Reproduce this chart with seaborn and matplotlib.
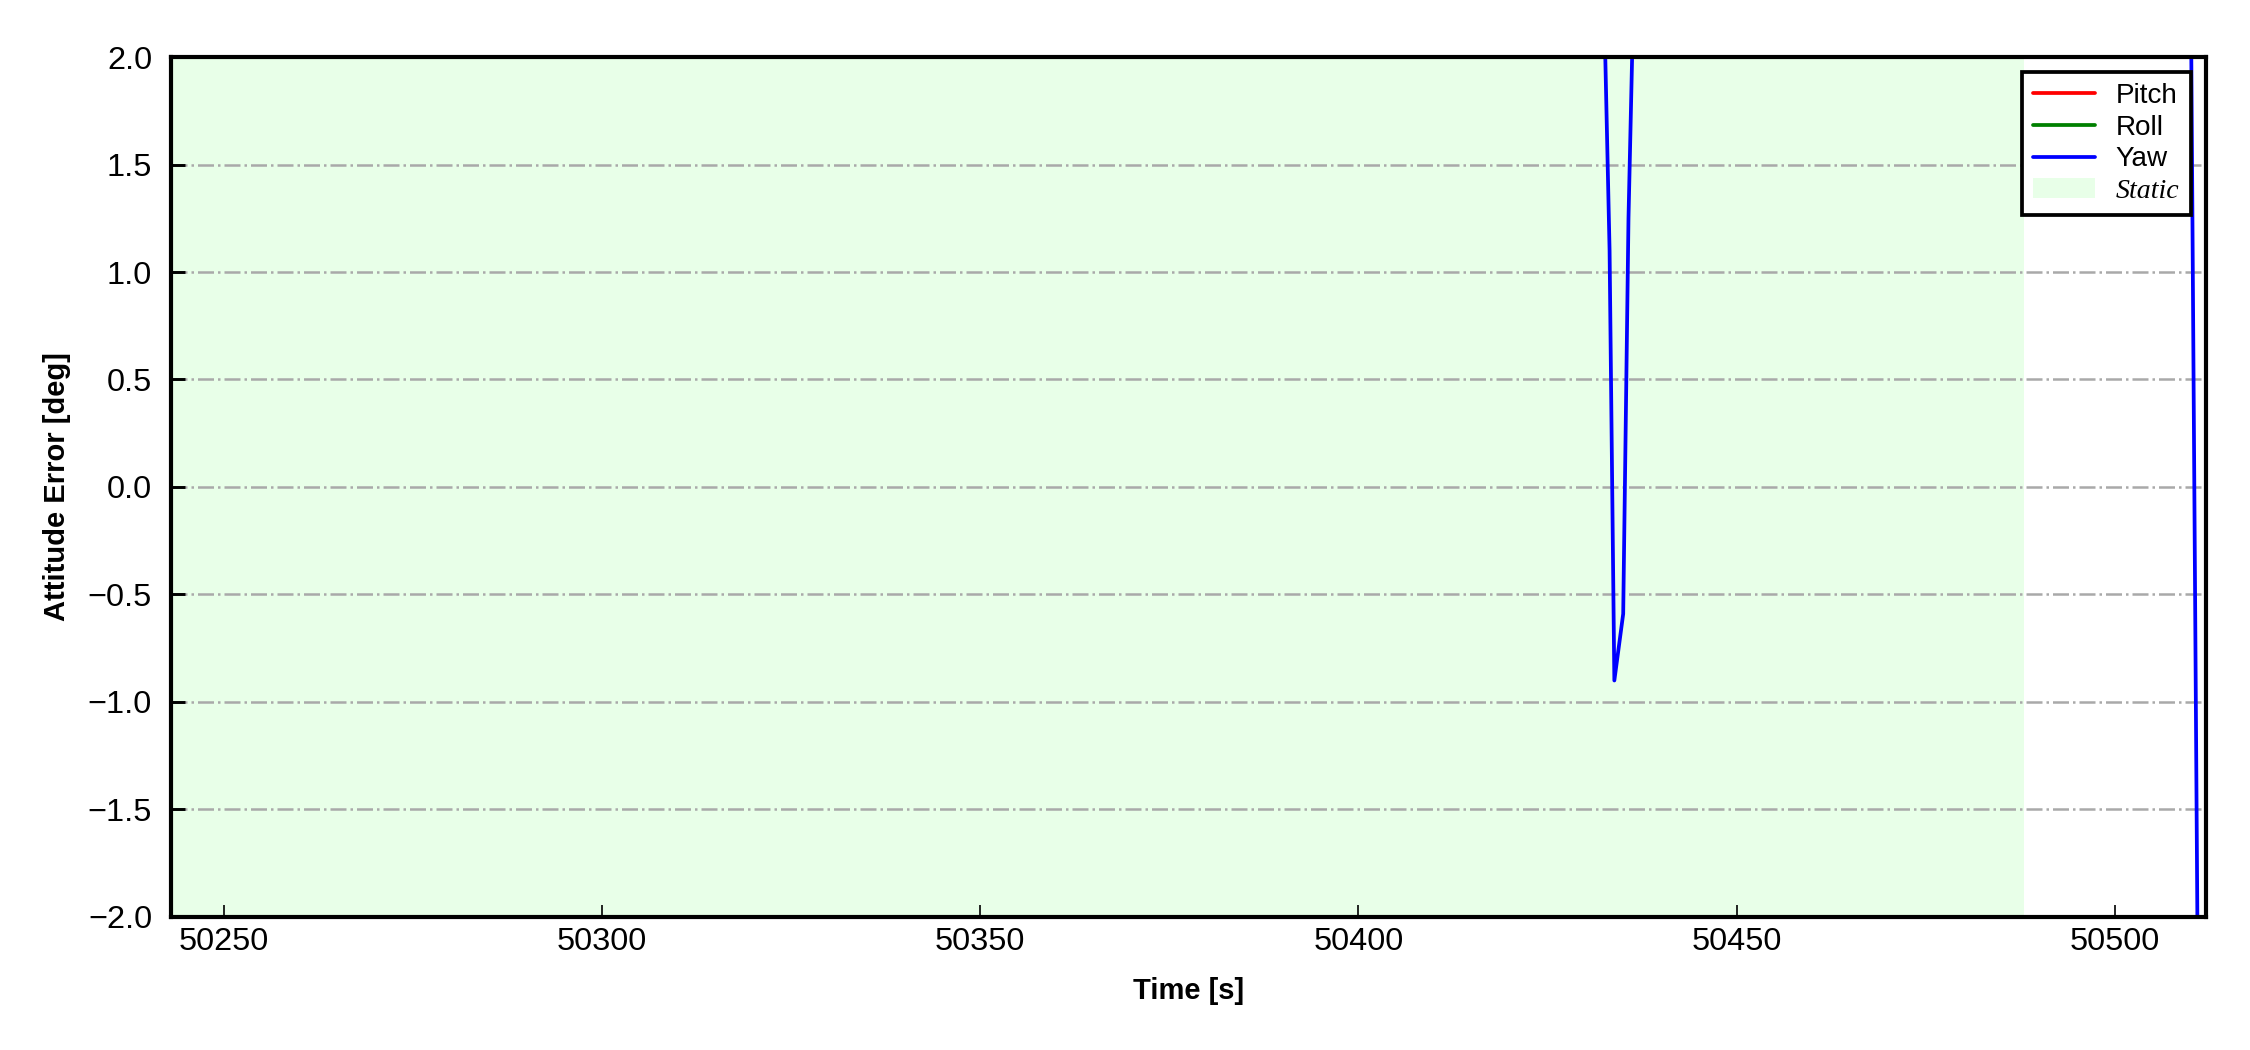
import numpy as np
import pandas as pd
import matplotlib
matplotlib.use("Agg")
import matplotlib.pyplot as plt
import seaborn as sns

# attitude error samples (deg); off-scale points keep the line clipped
pitch_t = [50243.0, 50244.0, 50512.0]
pitch_v = [1.4, 30.0, 30.0]

roll_t = [50243.0, 50512.0]
roll_v = [-25.0, -25.0]

yaw_t = [50243.0, 50432.0, 50433.2, 50433.83, 50435.0, 50435.7, 50436.5, 50509.5, 50511.5, 50512.0]
yaw_v = [12.0, 3.0, 1.1, -0.9, -0.59, 1.25, 2.5, 5.0, -5.0, -6.0]

static_start = 50243.0
static_end = 50488.0
x_range = [50243.0, 50512.0]
y_ticks = [-2.0, -1.5, -1.0, -0.5, 0.0, 0.5, 1.0, 1.5, 2.0]
x_ticks = [50250, 50300, 50350, 50400, 50450, 50500]

sns.set_style("ticks")
plt.rcParams['font.family'] = ['Liberation Sans', 'DejaVu Sans']
plt.rcParams['axes.unicode_minus'] = True
for k in ['text.color', 'axes.labelcolor', 'xtick.color', 'ytick.color']:
    plt.rcParams[k] = 'black'

fig = plt.figure(figsize=(7.5, 3.5), dpi=300)
ax = fig.add_axes([0.0759, 0.1267, 0.9044, 0.819])

ax.axvspan(static_start, static_end, color='lime', alpha=0.09, lw=0, label='Static')

series = [("Pitch", pitch_t, pitch_v, "red"),
          ("Roll", roll_t, roll_v, "green"),
          ("Yaw", yaw_t, yaw_v, "blue")]
for name, t, v, c in series:
    df = pd.DataFrame({'t': t, 'v': v})
    sns.lineplot(data=df, x='t', y='v', color=c, lw=0.9, ax=ax, label=name,
                 estimator=None, sort=False)

ax.set_xlim(x_range)
ax.set_ylim(-2, 2)
ax.set_yticks(y_ticks)
ax.set_xticks(x_ticks)
# grid sits above the static shading, below the lines
ax.set_axisbelow('line')
ax.yaxis.grid(True, linestyle='-.', color='darkgray', lw=0.6)
ax.xaxis.grid(False)

ax.tick_params(axis='x', direction='in', length=3, width=0.4, labelsize=7.8, pad=2.5)
ax.tick_params(axis='y', direction='in', length=3.4, width=0.7, labelsize=7.8, pad=4.5)
for s in ax.spines.values():
    s.set_linewidth(1.0)
    s.set_color('black')

ax.set_xlabel('Time [s]', fontsize=7, fontweight='bold', labelpad=4.7)
ax.set_ylabel('Attitude Error [deg]', fontsize=7, fontweight='bold', labelpad=4.1)

handles, labels = ax.get_legend_handles_labels()
order = [labels.index(n) for n in ["Pitch", "Roll", "Yaw", "Static"]]
leg = ax.legend([handles[i] for i in order], [labels[i] for i in order],
                loc='upper right', fontsize=6.7, frameon=True, fancybox=False,
                framealpha=1, edgecolor='black', handlelength=2.2,
                handletextpad=0.75, labelspacing=0.2, borderaxespad=0.54,
                borderpad=0.4)
leg.get_frame().set_linewidth(0.9)
st = leg.get_texts()[3]
st.set_fontfamily('Liberation Serif')
st.set_fontstyle('italic')

fig.savefig('out.png', dpi=300)
